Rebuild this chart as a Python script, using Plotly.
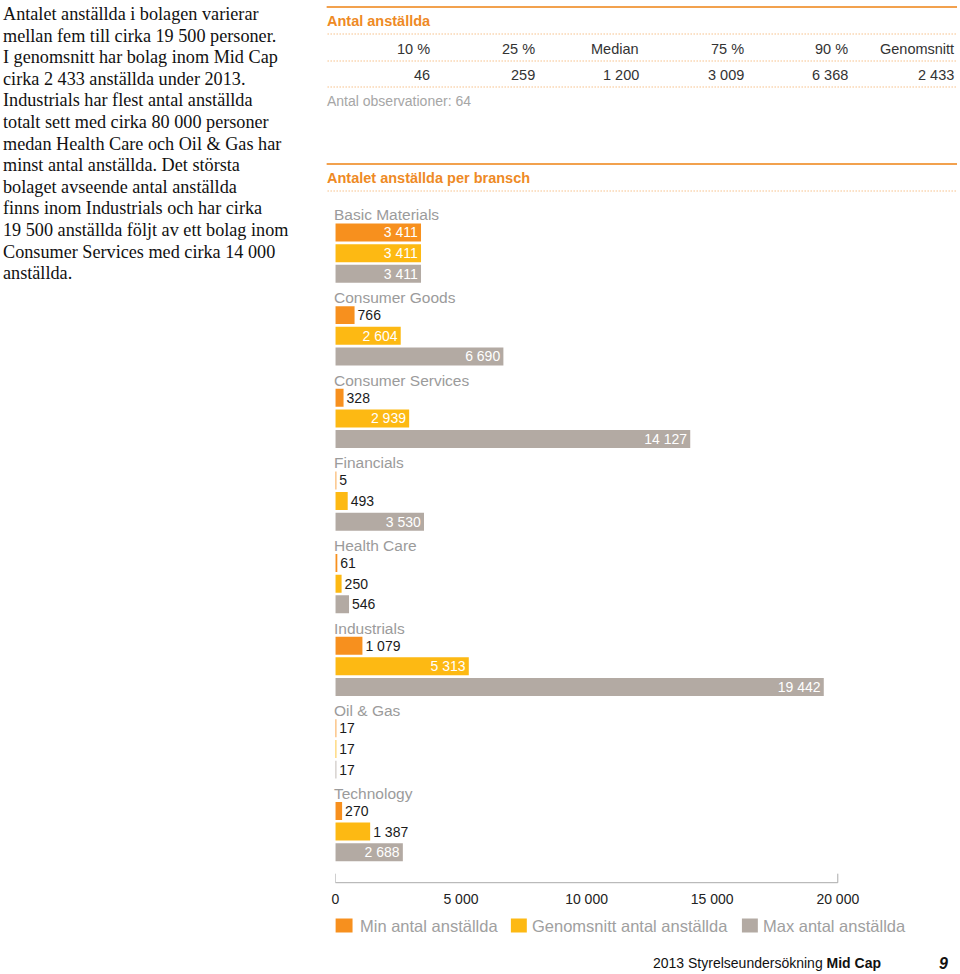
import plotly.graph_objects as go

# ---------------- data ----------------
categories = ["Basic Materials", "Consumer Goods", "Consumer Services", "Financials",
              "Health Care", "Industrials", "Oil & Gas", "Technology"]
min_vals = [3411, 766, 328, 5, 61, 1079, 17, 270]
avg_vals = [3411, 2604, 2939, 493, 250, 5313, 17, 1387]
max_vals = [3411, 6690, 14127, 3530, 546, 19442, 17, 2688]
series_names = ["Min antal anställda", "Genomsnitt antal anställda", "Max antal anställda"]
series_colors = ["#F7901E", "#FDB913", "#B3AAA3"]
x_ticks = [0, 5000, 10000, 15000, 20000]

stat_labels = ["10 %", "25 %", "Median", "75 %", "90 %", "Genomsnitt"]
stat_values = [46, 259, 1200, 3009, 6368, 2433]
n_obs = 64

paragraph = [
    "Antalet anställda i bolagen varierar",
    "mellan fem till cirka 19 500 personer.",
    "I genomsnitt har bolag inom Mid Cap",
    "cirka 2 433 anställda under 2013.",
    "Industrials har flest antal anställda",
    "totalt sett med cirka 80 000 personer",
    "medan Health Care och Oil & Gas har",
    "minst antal anställda. Det största",
    "bolaget avseende antal anställda",
    "finns inom Industrials och har cirka",
    "19 500 anställda följt av ett bolag inom",
    "Consumer Services med cirka 14 000",
    "anställda.",
]

# ---------------- helpers ----------------
W, H = 960, 974
SANS = "Liberation Sans, Arial, Helvetica, sans-serif"
SERIF = "Liberation Serif, Times New Roman, serif"
ORANGE_TXT = "#EE8A25"
ORANGE_LINE = "#F2A14E"


def px(x):
    return x / W


def py(y):
    return 1 - y / H


def fmt(v):
    return f"{v:,}".replace(",", " ")


fig = go.Figure()

all_series = [min_vals, avg_vals, max_vals]
for j, (name, vals, color) in enumerate(zip(series_names, all_series, series_colors)):
    slots = [4 * i + 1 + j for i in range(len(categories))]
    pos = ["inside" if v >= 2000 else "outside" for v in vals]
    tcol = ["white" if v >= 2000 else "#1a1a1a" for v in vals]
    fig.add_trace(go.Bar(
        x=vals, y=slots, orientation="h", name=name,
        marker=dict(color=color, line=dict(width=0)),
        width=0.87,
        text=[fmt(v) for v in vals], textposition=pos,
        textfont=dict(family=SANS, size=14, color=tcol),
        insidetextanchor="end", constraintext="none", cliponaxis=False,
        showlegend=False, hovertemplate="%{x}<extra>" + name + "</extra>",
    ))

annotations = []
shapes = []

# category labels
for i, c in enumerate(categories):
    annotations.append(dict(
        x=0, y=4 * i, xref="x", yref="y", text=c, showarrow=False,
        xanchor="left", yanchor="middle", yshift=-3, xshift=-3,
        font=dict(family=SANS, size=15.5, color="#9B9B9B")))

# paragraph
for k, line in enumerate(paragraph):
    annotations.append(dict(
        x=px(-3), y=py(14 + k * 21.6), xref="paper", yref="paper", text=line,
        showarrow=False, xanchor="left", yanchor="middle",
        font=dict(family=SERIF, size=18.2, color="#111111")))

# top stats table
annotations.append(dict(x=px(322), y=py(20.5), xref="paper", yref="paper",
                        text="<b>Antal anställda</b>", showarrow=False,
                        xanchor="left", yanchor="middle",
                        font=dict(family=SANS, size=14.5, color=ORANGE_TXT)))
col_right = [430, 535, 640, 745, 850, 956]
for xr, lab, val in zip(col_right, stat_labels, stat_values):
    annotations.append(dict(x=px(xr), y=py(48.5), xref="paper", yref="paper",
                            text=lab, showarrow=False, xanchor="right", yanchor="middle",
                            font=dict(family=SANS, size=14.5, color="#333333")))
    annotations.append(dict(x=px(xr), y=py(74.5), xref="paper", yref="paper",
                            text=fmt(val), showarrow=False, xanchor="right", yanchor="middle",
                            font=dict(family=SANS, size=14.5, color="#333333")))
annotations.append(dict(x=px(322), y=py(101), xref="paper", yref="paper",
                        text=f"Antal observationer: {n_obs}", showarrow=False,
                        xanchor="left", yanchor="middle",
                        font=dict(family=SANS, size=14, color="#A6A6A6")))
annotations.append(dict(x=px(322), y=py(178), xref="paper", yref="paper",
                        text="<b>Antalet anställda per bransch</b>", showarrow=False,
                        xanchor="left", yanchor="middle",
                        font=dict(family=SANS, size=14.5, color=ORANGE_TXT)))

for yy in (7, 164):
    shapes.append(dict(type="line", xref="paper", yref="paper",
                       x0=px(324), x1=px(957), y0=py(yy), y1=py(yy),
                       line=dict(color=ORANGE_LINE, width=2)))
for yy in (34, 61, 87, 191):
    shapes.append(dict(type="line", xref="paper", yref="paper",
                       x0=px(325), x1=px(957), y0=py(yy), y1=py(yy),
                       line=dict(color=ORANGE_LINE, width=1, dash="1px,2px")))

# axis line and end ticks
AX_Y = 882.7
shapes.append(dict(type="line", xref="x", yref="paper", x0=x_ticks[0], x1=x_ticks[-1],
                   y0=py(AX_Y), y1=py(AX_Y), line=dict(color="#AAAAAA", width=1)))
for xv in (x_ticks[0], x_ticks[-1]):
    shapes.append(dict(type="line", xref="x", yref="paper", x0=xv, x1=xv,
                       y0=py(AX_Y), y1=py(AX_Y - 9), line=dict(color="#AAAAAA", width=1)))

# custom legend
leg_sq = [(333, 350), (509, 525), (741, 757)]
leg_tx = [356, 529, 761]
for (x0, x1), tx, name, color in zip(leg_sq, leg_tx, series_names, series_colors):
    shapes.append(dict(type="rect", xref="paper", yref="paper",
                       x0=px(x0), x1=px(x1), y0=py(932.5), y1=py(918.5),
                       fillcolor=color, line=dict(width=0)))
    annotations.append(dict(x=px(tx - 1), y=py(925.5), xref="paper", yref="paper",
                            text=name, showarrow=False, xanchor="left", yanchor="middle",
                            font=dict(family=SANS, size=16.5, color="#A0A0A0")))

# footer
annotations.append(dict(x=px(650), y=py(963), xref="paper", yref="paper",
                        text="2013 Styrelseundersökning <b>Mid Cap</b>", showarrow=False,
                        xanchor="left", yanchor="middle",
                        font=dict(family=SANS, size=14, color="#111111")))
annotations.append(dict(x=px(937), y=py(963), xref="paper", yref="paper",
                        text="<b><i>9</i></b>", showarrow=False,
                        xanchor="left", yanchor="middle",
                        font=dict(family=SANS, size=16, color="#111111")))

fig.update_layout(
    width=W, height=H,
    margin=dict(l=0, r=0, t=0, b=0),
    paper_bgcolor="white", plot_bgcolor="white",
    separators=", ",
    barmode="overlay",
    showlegend=False,
    xaxis=dict(domain=[px(332.7), px(938.2)], range=[0, 24000],
               tickvals=x_ticks, tickformat=",", ticks="",
               showline=False, showgrid=False, zeroline=False,
               anchor="free", position=py(AX_Y), ticklabelstandoff=6,
               tickfont=dict(family=SANS, size=14, color="#222222"),
               fixedrange=True),
    yaxis=dict(domain=[py(862.6), py(201.5)], range=[31.5, -0.5],
               visible=False, fixedrange=True),
    annotations=annotations,
    shapes=shapes,
    font=dict(family=SANS),
)

fig.write_html(
    "out.html",
    config={"displayModeBar": False},
    post_script="document.body.style.margin='0';document.body.style.overflow='hidden';",
)
